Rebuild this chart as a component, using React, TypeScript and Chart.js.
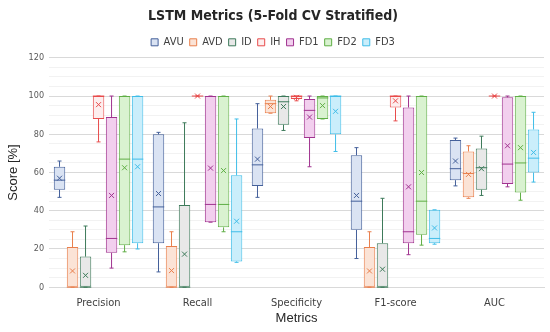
import React, { useEffect, useRef } from "react";
import { Chart, registerables } from "chart.js";

Chart.register(...registerables);

const categories = ["Precision", "Recall", "Specificity", "F1-score", "AUC"];
const seriesNames = ["AVU", "AVD", "ID", "IH", "FD1", "FD2", "FD3"];
const yTicks = [0, 20, 40, 60, 80, 100, 120];

// each entry: [min, q1, median, q3, max, mean]
const AVU = [
  [47, 51, 56, 63, 66, 57],
  [8, 23, 42, 80, 81, 49],
  [47, 53, 64, 83, 96, 67],
  [15, 30, 45, 69, 73, 48],
  [53, 56, 62, 77, 78, 66],
];
const AVD = [
  [0, 0, 0, 21, 29, 8.5],
  [0, 0, 0, 21.5, 29, 8.7],
  [91, 91, 96, 98, 100, 94.5],
  [0, 0, 0, 21, 29, 8.5],
  [46.5, 47, 59.5, 71, 74, 59],
];
const ID = [
  [0, 0, 0, 16, 32, 6.2],
  [0, 0, 0, 43, 86, 17.3],
  [82, 85, 97, 100, 100, 94.5],
  [0, 0, 0, 23, 46.5, 9.4],
  [48, 51, 62.5, 72.5, 79, 62],
];
const IH = [
  [76, 88, 100, 100, 100, 95.5],
  [100, 100, 100, 100, 100, 100],
  [97.5, 98.5, 100, 100, 100, 99.3],
  [87, 94, 100, 100, 100, 97.5],
  [100, 100, 100, 100, 100, 100],
];
const FD1 = [
  [10, 18, 25.5, 89, 100, 48],
  [34, 34, 43.3, 100, 100, 62.3],
  [63, 78, 92.5, 98.5, 100, 89],
  [17, 23, 29, 94, 100, 52.5],
  [52.5, 54, 64.4, 99.3, 100, 74],
];
const FD2 = [
  [18.5, 22, 67, 100, 100, 62.5],
  [29, 31.3, 43.3, 100, 100, 61],
  [88, 88, 99, 100, 100, 95],
  [22, 27.5, 45, 100, 100, 60],
  [45.5, 49.5, 65, 100, 100, 73],
];
const FD3 = [
  [20, 23, 67, 100, 100, 63],
  [13, 13.5, 29, 58.5, 88, 34.5],
  [71, 80, 100, 100, 100, 92],
  [22.5, 23, 25.5, 40.5, 40.5, 31],
  [55, 60, 67.5, 82.5, 91.5, 70.5],
];

const seriesData = [AVU, AVD, ID, IH, FD1, FD2, FD3];
const fills = ["#dae3f3", "#fbe3d6", "#e8e8e8", "#fdeeee", "#f2cfee", "#d9f2d0", "#caeefb"];
const borders = ["#44609a", "#e97f4c", "#3d7a5a", "#e84c4c", "#a0338f", "#5fae45", "#3fbde8"];

const FONT = "'Liberation Sans Narrow', 'DejaVu Sans Condensed', 'Liberation Sans', sans-serif";
const FONT2 = "'Liberation Sans', Arial, sans-serif";

const boxPlugin = {
  id: "boxExtras",
  afterDatasetsDraw(chart: any) {
    const ctx = chart.ctx;
    const y = chart.scales.y;
    chart.data.datasets.forEach((ds: any, di: number) => {
      const meta = chart.getDatasetMeta(di);
      if (meta.hidden) return;
      const stats = seriesData[di];
      meta.data.forEach((el: any, i: number) => {
        const s = stats[i];
        const x = el.x;
        const w = el.width;
        const [mn, q1, med, q3, mx, mean] = s;
        ctx.save();
        ctx.strokeStyle = borders[di];
        ctx.lineWidth = 1;
        const cap = w * 0.35;
        const line = (x1: number, y1: number, x2: number, y2: number) => {
          ctx.beginPath();
          ctx.moveTo(x1, y1);
          ctx.lineTo(x2, y2);
          ctx.stroke();
        };
        if (mx > q3) {
          line(x, y.getPixelForValue(q3), x, y.getPixelForValue(mx));
        }
        line(x - cap / 2, y.getPixelForValue(mx), x + cap / 2, y.getPixelForValue(mx));
        if (mn < q1) {
          line(x, y.getPixelForValue(q1), x, y.getPixelForValue(mn));
        }
        line(x - cap / 2, y.getPixelForValue(mn), x + cap / 2, y.getPixelForValue(mn));
        line(x - w / 2, y.getPixelForValue(med), x + w / 2, y.getPixelForValue(med));
        const my = y.getPixelForValue(mean);
        const r = 2.5;
        line(x - r, my - r, x + r, my + r);
        line(x - r, my + r, x + r, my - r);
        ctx.restore();
      });
    });
  },
};

export default function App() {
  const ref = useRef<HTMLCanvasElement | null>(null);
  useEffect(() => {
    if (!ref.current) return;
    const chart = new Chart(ref.current, {
      type: "bar",
      data: {
        labels: categories,
        datasets: seriesNames.map((name, di) => ({
          label: name,
          data: seriesData[di].map((s) => [s[1], s[3]]),
          backgroundColor: fills[di],
          borderColor: borders[di],
          borderWidth: 1,
          borderSkipped: false,
          categoryPercentage: 0.92,
          barPercentage: 0.88,
        })),
      },
      options: {
        animation: false,
        responsive: true,
        maintainAspectRatio: false,
        layout: { padding: { left: 2, right: 6, top: 6, bottom: 6 } },
        plugins: {
          title: {
            display: true,
            text: "LSTM Metrics (5-Fold CV Stratified)",
            color: "#262626",
            font: { family: FONT, size: 14, weight: "bold" },
            padding: { top: 2, bottom: 6 },
          },
          legend: {
            display: true,
            position: "top",
            labels: {
              boxWidth: 7,
              boxHeight: 7,
              color: "#404040",
              font: { family: FONT, size: 11 },
              padding: 6,
            },
          },
          tooltip: { enabled: false },
        },
        scales: {
          x: {
            grid: { display: false },
            border: { color: "#d9d9d9" },
            ticks: { color: "#404040", font: { family: FONT, size: 11 }, padding: 1 },
            title: {
              display: true,
              text: "Metrics",
              color: "#262626",
              font: { family: FONT2, size: 13 },
              padding: { top: 0, bottom: 0 },
            },
          },
          y: {
            min: 0,
            max: 120,
            afterBuildTicks: (axis: any) => {
              const t = [];
              for (let v = 0; v <= 120; v += 5) t.push({ value: v });
              axis.ticks = t;
            },
            ticks: {
              color: "#595959",
              font: { family: FONT, size: 9 },
              autoSkip: false,
              padding: 5,
              callback: (v: any) => (yTicks.includes(Number(v)) ? String(v) : ""),
            },
            grid: {
              color: (c: any) => (c.tick && c.tick.value % 20 === 0 ? "#d9d9d9" : "#f2f2f2"),
              drawTicks: false,
            },
            border: { display: false },
            title: {
              display: true,
              text: "Score [%]",
              color: "#262626",
              font: { family: FONT2, size: 13 },
              padding: { bottom: 2 },
            },
          },
        },
      },
      plugins: [boxPlugin],
    });
    return () => chart.destroy();
  }, []);
  return (
    <div style={{ position: "fixed", left: 0, top: 0, width: 550, height: 332, background: "#fff" }}>
      <canvas ref={ref} />
    </div>
  );
}
